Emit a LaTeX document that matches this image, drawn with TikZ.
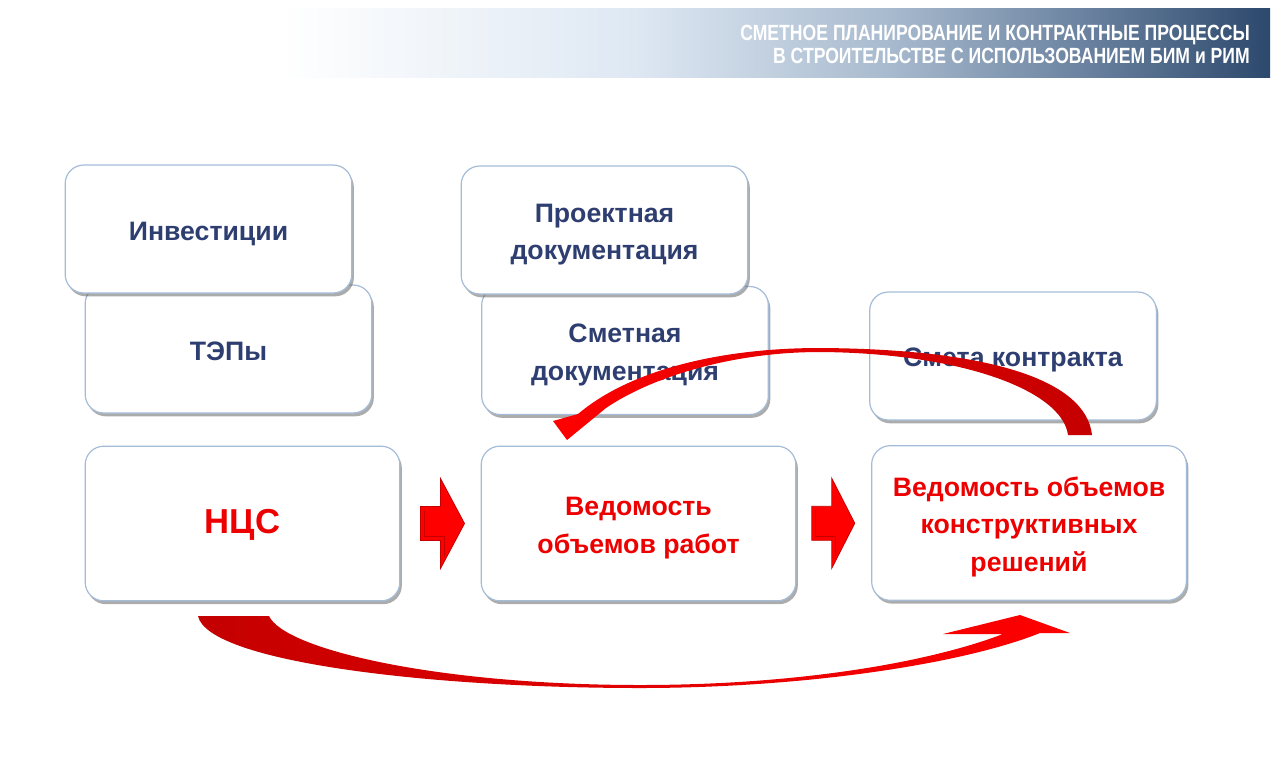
\documentclass[tikz,border=0pt]{standalone}
\usepackage{fontspec}
\setmainfont{Liberation Sans}
\usetikzlibrary{shadows,calc}

\definecolor{txtblue}{RGB}{46,62,112}
\definecolor{boxline}{RGB}{165,188,216}
\definecolor{redtxt}{RGB}{236,0,0}
\definecolor{darkred}{RGB}{196,0,0}
\definecolor{hdA}{RGB}{222,232,243}
\definecolor{hdB}{RGB}{168,186,206}
\definecolor{hdC}{RGB}{104,128,158}
\definecolor{hdD}{RGB}{44,72,108}

\pgfdeclarehorizontalshading{headshade}{100bp}{color(0bp)=(white); color(36bp)=(white); color(50bp)=(hdA); color(60bp)=(hdB); color(68bp)=(hdC); color(75bp)=(hdD); color(100bp)=(hdD)}

% strut that sets the text a little below the box centre
\newcommand{\lift}{\rule[-4pt]{0pt}{24.5pt}}

\tikzset{
  box/.style={draw=boxline, line width=0.9pt, fill=white, rounded corners=14pt,
    minimum width=215pt, minimum height=96pt, align=center, text=txtblue,
    font=\bfseries\fontsize{20}{28}\selectfont,
    drop shadow={shadow xshift=1.5pt, shadow yshift=-2.5pt, opacity=0.5, fill=black!65}},
  bigbox/.style={box, minimum width=236pt, minimum height=116pt, text=redtxt},
  blockarr/.style={fill=red, draw=darkred, line width=0.6pt},
  headtext/.style={text=white, font=\bfseries\fontsize{16.5}{18}\selectfont, inner sep=0pt},
}

\begin{document}
\begin{tikzpicture}[x=0.75pt,y=0.75pt,yscale=-1]
\useasboundingbox (0,0) rectangle (1280,775);

%Shape: header band
\fill[shading=headshade] (0,8) rectangle (1270,77);
\node[headtext, anchor=base east] (title1) at (1250,40) {\scalebox{0.8}[1]{СМЕТНОЕ ПЛАНИРОВАНИЕ И КОНТРАКТНЫЕ ПРОЦЕССЫ}};
\node[headtext, anchor=base east] (title2) at (1250,63) {\scalebox{0.8}[1]{В СТРОИТЕЛЬСТВЕ С ИСПОЛЬЗОВАНИЕМ БИМ и РИМ}};

%Boxes, back row first
\node[box] (tep) at (228.5,349) {\lift ТЭПы};
\node[box] (inv) at (208.5,229) {\lift Инвестиции};
\node[box] (smet) at (625,350.5) {\lift Сметная\\документация};
\node[box] (proj) at (604.5,230) {\lift Проектная\\документация};
\node[box] (kontr) at (1013,356) {\lift Смета контракта};

%Boxes, bottom row
\node[bigbox, font=\bfseries\fontsize{26}{30}\selectfont] (ncs) at (242.5,523.5) {\lift НЦС};
\node[bigbox] (vor) at (638.5,523.5) {\lift Ведомость\\объемов работ};
\node[bigbox] (vok) at (1029,523) {\lift Ведомость объемов\\конструктивных\\решений};

%Block arrows
\draw[blockarr, shift={($(ncs.east)!0.5!(vor.west)$)}] (-20,-17) -- (0,-17) -- (0,-45) -- (24,0) -- (0,45) -- (0,17) -- (-20,17) -- cycle;
\draw[darkred, line width=0.8pt, shift={($(ncs.east)!0.5!(vor.west)$)}] (-16,-13) -- (-16,13) -- (4,13) -- (4,33);
\draw[blockarr, shift={($(vor.east)!0.5!(vok.west)$)}] (-22,-17) -- (-2,-17) -- (-2,-45) -- (21,0) -- (-2,45) -- (-2,17) -- (-22,17) -- cycle;
\draw[darkred, line width=0.8pt, shift={($(vor.east)!0.5!(vok.west)$)}] (-18,-13) -- (-18,13) -- (2,13) -- (2,33);

%Curved arrow, top (back to vor)
\path[left color=red, right color=darkred] (1092,435) .. controls (1086,380) and (990,349) .. (820,348) .. controls (720,348) and (630,370) .. (578,414) -- (553,421) -- (567,440) -- (606,408) .. controls (650,378) and (730,352) .. (820,352) .. controls (960,353) and (1062,390) .. (1068,435) -- cycle;

%Curved arrow, bottom (ncs to vok)
\path[left color=darkred, right color=red] (198,616) .. controls (208,662) and (430,688) .. (640,688) .. controls (800,688) and (960,665) .. (1040,633) -- (1070,633) -- (1020,615) -- (943,634) -- (1003,634) .. controls (930,662) and (800,685) .. (640,685) .. controls (440,685) and (285,650) .. (269,616) -- cycle;

\end{tikzpicture}
\end{document}
